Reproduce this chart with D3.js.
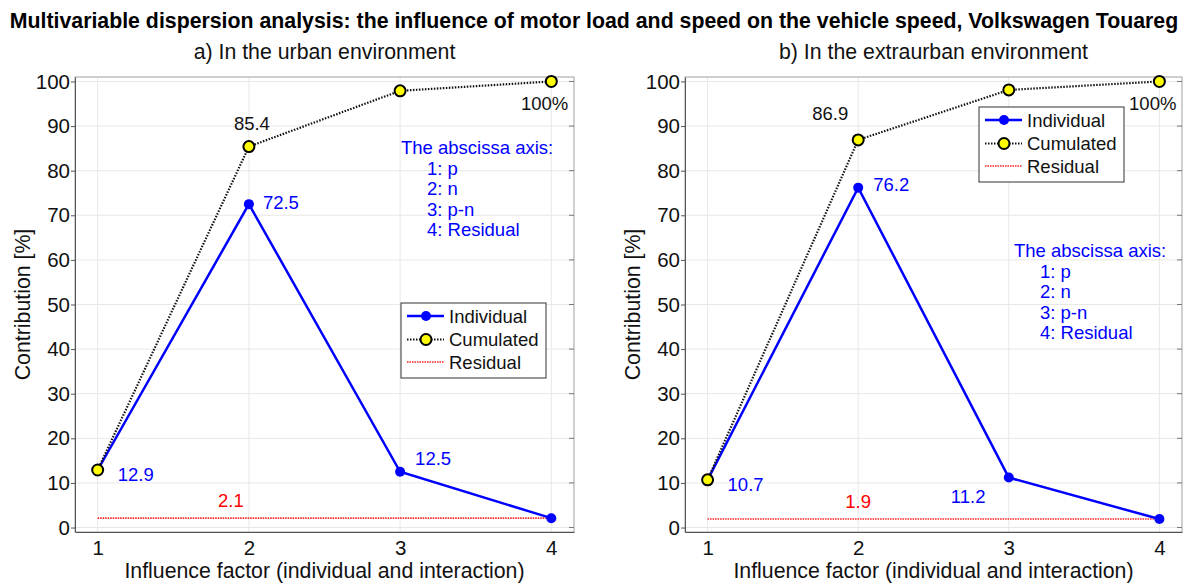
<!DOCTYPE html>
<html>
<head>
<meta charset="utf-8">
<script src="https://cdn.jsdelivr.net/npm/d3@7"></script>
<style>
  body { margin: 0; background: #fff; }
  svg text { font-family: Arial, "Liberation Sans", Helvetica, sans-serif; }
</style>
</head>
<body>
<svg id="chart" width="1186" height="583"></svg>
<script>
// --- data ---
const factors = [1, 2, 3, 4];
const yTicks = [0, 10, 20, 30, 40, 50, 60, 70, 80, 90, 100];

const urbanIndividual = [12.9, 72.5, 12.5, 2.1];
const urbanCumulated = [12.9, 85.4, 97.9, 100];
const urbanResidual = 2.1;

const extraIndividual = [10.7, 76.2, 11.2, 1.9];
const extraCumulated = [10.7, 86.9, 98.1, 100];
const extraResidual = 1.9;

const legendNames = ["Individual", "Cumulated", "Residual"];
const abscissaNote = ["The abscissa axis:", "1: p", "2: n", "3: p-n", "4: Residual"];

const mainTitle = "Multivariable dispersion analysis: the influence of motor load and speed on the vehicle speed, Volkswagen Touareg";

const svg = d3.select("#chart");
const plotTop = 77, plotBottom = 532;

svg.append("text")
    .attr("x", 594).attr("y", 28)
    .attr("text-anchor", "middle")
    .attr("font-size", 21.3).attr("font-weight", "bold")
    .text(mainTitle);

// panel layout (pixel placement of axes, legend, notes, labels)
const panels = [
    {
        title: "a) In the urban environment",
        left: 75, right: 574,
        individual: urbanIndividual, cumulated: urbanCumulated, residual: urbanResidual,
        legend: [401, 303], note: [401, 148],
        labels: [
            { s: "ind", i: 0, dx: 20, dy: 11, anchor: "start" },
            { s: "ind", i: 1, dx: 14, dy: 5, anchor: "start" },
            { s: "ind", i: 2, dx: 15, dy: -7, anchor: "start" },
            { s: "res", i: 1, dx: -18, dy: -11, anchor: "middle" },
            { s: "cum", i: 1, dx: 3, dy: -17, anchor: "middle" },
            { s: "cum", i: 3, dx: 17, dy: 29, anchor: "end", pct: true }
        ]
    },
    {
        title: "b) In the extraurban environment",
        left: 685, right: 1182,
        individual: extraIndividual, cumulated: extraCumulated, residual: extraResidual,
        legend: [979, 107], note: [1014, 251],
        labels: [
            { s: "ind", i: 0, dx: 20, dy: 11, anchor: "start" },
            { s: "ind", i: 1, dx: 15, dy: 3, anchor: "start" },
            { s: "ind", i: 2, dx: -58, dy: 25, anchor: "start" },
            { s: "res", i: 1, dx: 0, dy: -11, anchor: "middle" },
            { s: "cum", i: 1, dx: -28, dy: -20, anchor: "middle" },
            { s: "cum", i: 3, dx: 17, dy: 29, anchor: "end", pct: true }
        ]
    }
];

panels.forEach(p => drawPanel(p));

function drawPanel(p) {
    const x = d3.scaleLinear().domain([0.85, 4.15]).range([p.left, p.right]);
    const y = d3.scaleLinear().domain([-1, 101]).range([plotBottom, plotTop]);
    const g = svg.append("g");
    const cx = (p.left + p.right) / 2;

    // grid
    g.selectAll(".gy").data(yTicks).join("line")
        .attr("x1", p.left).attr("x2", p.right)
        .attr("y1", d => y(d)).attr("y2", d => y(d))
        .attr("stroke", "#e8e8e8").attr("stroke-width", 1);
    g.selectAll(".gx").data(factors).join("line")
        .attr("x1", d => x(d)).attr("x2", d => x(d))
        .attr("y1", plotTop).attr("y2", plotBottom)
        .attr("stroke", "#e8e8e8").attr("stroke-width", 1);

    // box: top/right light, left/bottom via axes
    g.append("rect")
        .attr("x", p.left).attr("y", plotTop)
        .attr("width", p.right - p.left).attr("height", plotBottom - plotTop)
        .attr("fill", "none").attr("stroke", "#a0a0a0").attr("stroke-width", 1);

    const yAxis = d3.axisLeft(y).tickValues(yTicks).tickSize(4).tickSizeOuter(0);
    const yg = g.append("g").attr("transform", `translate(${p.left},0)`).call(yAxis);
    yg.select(".domain").attr("stroke", "#555");
    yg.selectAll(".tick line").attr("stroke", "#555");
    yg.selectAll(".tick text").attr("font-size", 20.5).attr("fill", "#111")
        .attr("font-family", "Arial, 'Liberation Sans', sans-serif").attr("x", -5);

    // inward ticks on the right border
    g.selectAll(".ry").data(yTicks).join("line")
        .attr("x1", p.right - 5).attr("x2", p.right)
        .attr("y1", d => y(d)).attr("y2", d => y(d))
        .attr("stroke", "#777");

    const xAxis = d3.axisBottom(x).tickValues(factors).tickSize(0).tickSizeOuter(0).tickFormat(d3.format("d"));
    const xg = g.append("g").attr("transform", `translate(0,${plotBottom})`).call(xAxis);
    xg.select(".domain").attr("stroke", "#555");
    xg.selectAll(".tick text").attr("font-size", 20.5).attr("fill", "#111")
        .attr("font-family", "Arial, 'Liberation Sans', sans-serif").attr("dy", "0.71em").attr("y", 8);

    // titles
    svg.append("text").attr("x", cx).attr("y", 59).attr("text-anchor", "middle")
        .attr("font-size", 21.3).attr("fill", "#111").text(p.title);
    svg.append("text").attr("x", cx).attr("y", 578).attr("text-anchor", "middle")
        .attr("font-size", 21.3).attr("fill", "#111").text("Influence factor (individual and interaction)");
    svg.append("text")
        .attr("transform", `translate(${p.left - 45},${(plotTop + plotBottom) / 2}) rotate(-90)`)
        .attr("text-anchor", "middle").attr("font-size", 21.3).attr("fill", "#111")
        .text("Contribution [%]");

    // residual line
    g.append("line")
        .attr("x1", x(1)).attr("x2", x(4))
        .attr("y1", y(p.residual)).attr("y2", y(p.residual))
        .attr("stroke", "#ff2020").attr("stroke-width", 1.6).attr("stroke-dasharray", "1.5,1");

    const line = d3.line().x((d, i) => x(factors[i])).y(d => y(d));

    // individual
    g.append("path").datum(p.individual).attr("d", line)
        .attr("fill", "none").attr("stroke", "#0000ff").attr("stroke-width", 2.5);
    g.selectAll(".ip").data(p.individual).join("circle")
        .attr("cx", (d, i) => x(factors[i])).attr("cy", d => y(d)).attr("r", 5)
        .attr("fill", "#0000ff");

    // cumulated
    g.append("path").datum(p.cumulated).attr("d", line)
        .attr("fill", "none").attr("stroke", "#111").attr("stroke-width", 2.2)
        .attr("stroke-dasharray", "1.5,1.5");
    g.selectAll(".cp").data(p.cumulated).join("circle")
        .attr("cx", (d, i) => x(factors[i])).attr("cy", d => y(d)).attr("r", 5.5)
        .attr("fill", "#ffff00").attr("stroke", "#000").attr("stroke-width", 2);

    // value labels
    p.labels.forEach(l => {
        let v, col;
        if (l.s === "ind") { v = p.individual[l.i]; col = "#0000ff"; }
        else if (l.s === "cum") { v = p.cumulated[l.i]; col = "#111"; }
        else { v = p.residual; col = "#ff0000"; }
        const txt = l.pct ? d3.format("d")(v) + "%" : d3.format(".1f")(v);
        g.append("text")
            .attr("x", x(factors[l.i]) + l.dx).attr("y", y(v) + l.dy)
            .attr("text-anchor", l.anchor).attr("font-size", 18.5).attr("fill", col)
            .text(txt);
    });

    // abscissa note
    const note = g.append("text").attr("font-size", 18.5).attr("fill", "#0000ff");
    abscissaNote.forEach((t, i) => {
        note.append("tspan")
            .attr("x", p.note[0] + (i === 0 ? 0 : 26))
            .attr("y", p.note[1] + 6 + i * 20.5)
            .text(t);
    });

    // legend
    const [lx, ly] = p.legend;
    const lg = g.append("g").attr("transform", `translate(${lx},${ly})`);
    lg.append("rect").attr("width", 145).attr("height", 75)
        .attr("fill", "#fff").attr("stroke", "#333").attr("stroke-width", 1);
    const rowY = [13, 36.5, 59];
    legendNames.forEach((name, i) => {
        const row = lg.append("g").attr("transform", `translate(0,${rowY[i]})`);
        const ln = row.append("line").attr("x1", 6).attr("x2", 43).attr("y1", 0).attr("y2", 0);
        if (i === 0) {
            ln.attr("stroke", "#0000ff").attr("stroke-width", 2.5);
            row.append("circle").attr("cx", 25).attr("r", 5).attr("fill", "#0000ff");
        } else if (i === 1) {
            ln.attr("stroke", "#111").attr("stroke-width", 2.2).attr("stroke-dasharray", "1.5,1.5");
            row.append("circle").attr("cx", 25).attr("r", 5.5)
                .attr("fill", "#ffff00").attr("stroke", "#000").attr("stroke-width", 2);
        } else {
            ln.attr("stroke", "#ff2020").attr("stroke-width", 1.6).attr("stroke-dasharray", "1.5,1");
        }
        row.append("text").attr("x", 48).attr("y", 6.5).attr("font-size", 18.5)
            .attr("fill", "#111").text(name);
    });
}
</script>
</body>
</html>
